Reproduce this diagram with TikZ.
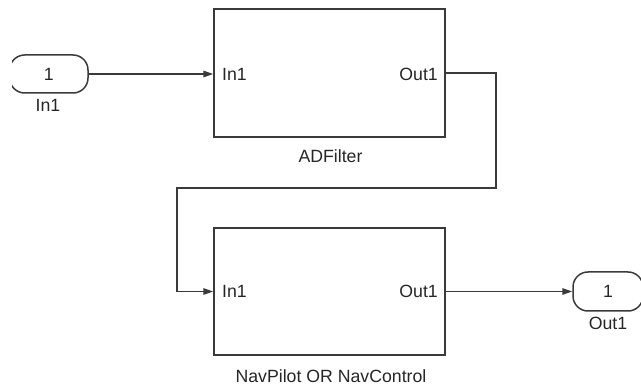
\documentclass[tikz,border=0pt]{standalone}
\usepackage{fontspec}
\setmainfont{Liberation Sans}
\usetikzlibrary{arrows.meta}
\definecolor{wire}{HTML}{3A3A3A}
\definecolor{ink}{HTML}{262626}
\begin{document}
\begin{tikzpicture}[x=1pt,y=-1pt,
  link/.style={draw=wire,line width=1.5pt,-{Triangle[length=10pt,width=6.5pt]}},
  block/.style={draw=wire,line width=1.5pt,minimum width=231pt,minimum height=128pt,inner sep=0pt},
  port/.style={draw=wire,line width=1.5pt,rounded corners=15pt,minimum height=38pt,inner sep=0pt,
    font=\fontsize{17.7}{20}\selectfont,text=ink},
  lbl/.style={font=\fontsize{17.7}{20}\selectfont,text=ink,inner sep=0pt},
]
\useasboundingbox (0,0) rectangle (641,385);

% subsystem blocks
\node[block] (adf) at (329.5,73) {};
\node[block,minimum height=127pt] (nav) at (329.5,291.5) {};

% block port labels
\node[lbl,anchor=base west] (adfin) at (222,80.5) {In1};
\node[lbl,anchor=base east] (adfout) at (438,80.5) {Out1};
\node[lbl,anchor=base west] (navin) at (222,298) {In1};
\node[lbl,anchor=base east] (navout) at (438,298) {Out1};

% block names
\node[lbl,anchor=base] (adfname) at (330.5,163) {ADFilter};
\node[lbl,anchor=base] (navname) at (331,382) {NavPilot OR NavControl};

% root-level inport and outport
\begin{scope}
  \clip (12,0) rectangle (641,385);
  \node[port,minimum width=78.3pt] (inport) at (48.85,74) {1};
  \node[port,minimum width=70pt,minimum height=39pt] (outport) at (608,291.5) {1};
\end{scope}
\node[lbl,anchor=base] (inname) at (48,112) {In1};
\node[lbl,anchor=base] (outname) at (608,330) {Out1};

% signal lines
\coordinate (b1) at (496,188);
\coordinate (b2) at (177,188);
\draw[link] (inport.east) -- (inport.east -| adf.west);
\draw[link] (adf.east) -| (b1) -- (b2) |- (nav.west);
\draw[link] (nav.east) -- (outport.west);
\end{tikzpicture}
\end{document}
